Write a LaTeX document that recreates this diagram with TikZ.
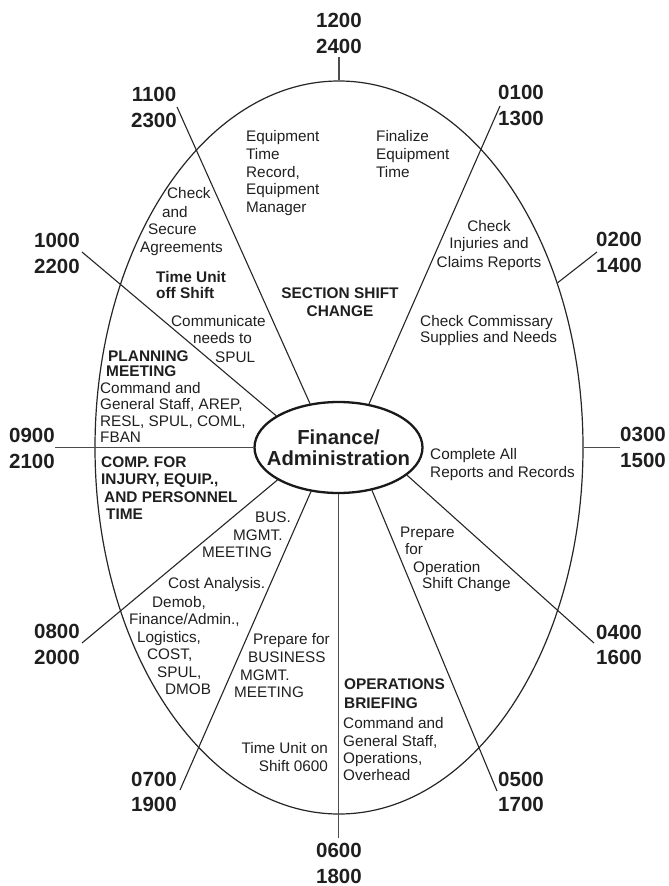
\documentclass[tikz,border=0pt]{standalone}
\usepackage{fontspec}
\setmainfont{Liberation Sans}
\usetikzlibrary{shapes.geometric}

\begin{document}
\begin{tikzpicture}[x=1pt,y=-1pt,
  txt/.style={font=\fontsize{15.3}{17}\selectfont, text=black!88, inner sep=0pt, anchor=base west},
  hdr/.style={font=\fontsize{15.4}{17}\selectfont\bfseries, text=black!88, inner sep=0pt, anchor=base west},
  hour/.style={font=\fontsize{20.5}{25.5}\selectfont\bfseries, align=center, text=black!88, inner sep=0pt},
  spoke/.style={line width=1.1pt, draw=black!85},
  axis/.style={line width=1.5pt, draw=black!70},
]
\useasboundingbox (0,0) rectangle (669,886);

% clock face and hub
\node[ellipse, draw=black!85, line width=1.2pt, minimum width=488pt, minimum height=733pt, inner sep=0pt] (big) at (339,447.5) {};
\node[ellipse, draw=black!90, line width=2.3pt, minimum width=168pt, minimum height=91pt, inner sep=0pt] (fin) at (338.5,447.5) {};
\node[font=\fontsize{20.3}{21}\selectfont\bfseries, align=center, text=black!88, inner sep=0pt] (fintext) at (fin.center) {Finance/\\Administration};

% hour labels
\node[hour] (h12) at (339,33.5) {1200\\2400};
\node[hour] (h11) at (154,107.5) {1100\\2300};
\node[hour] (h01) at (521,105.5) {0100\\1300};
\node[hour] (h10) at (57,253.5) {1000\\2200};
\node[hour] (h02) at (619,252.5) {0200\\1400};
\node[hour] (h09) at (32,448.5) {0900\\2100};
\node[hour] (h03) at (643,447.5) {0300\\1500};
\node[hour] (h08) at (57,644.5) {0800\\2000};
\node[hour] (h04) at (619,645) {0400\\1600};
\node[hour] (h07) at (154,792) {0700\\1900};
\node[hour] (h05) at (521,792) {0500\\1700};
\node[hour] (h06) at (339,863.5) {0600\\1800};

% outer ends of the spokes
\coordinate (e12) at (339,57);
\coordinate (e11) at (177,107);
\coordinate (e01) at (500,106);
\coordinate (e10) at (82,252);
\coordinate (e02) at (597,252);
\coordinate (e09) at (55,447.5);
\coordinate (e03) at (620,447.5);
\coordinate (e08) at (82,643);
\coordinate (e04) at (594,643);
\coordinate (e07) at (180,790);
\coordinate (e05) at (497,791);
\coordinate (e06) at (338.5,838);

% spokes
\draw[axis] (big.north) -- (e12);
\draw[axis] (big.east) -- (e03);
\draw[axis] (e09) -- (fin.west);
\draw[axis] (fin.south) -- (e06);
\draw[spoke] (e02) -- (big.37);
\draw[spoke] (e11) -- (fin.123);
\draw[spoke] (e01) -- (fin.55);
\draw[spoke] (e10) -- (fin.153);
\draw[spoke] (e08) -- (fin.208);
\draw[spoke] (e04) -- (fin.338);
\draw[spoke] (e07) -- (fin.238);
\draw[spoke] (e05) -- (fin.308);

% activities
\foreach \y/\t [count=\k] in {141/Equipment, 159/Time, 177/{Record,}, 194/Equipment, 212/Manager}
  \node[txt] (eqrec\k) at (246,\y) {\t};
\foreach \y/\t [count=\k] in {141/Finalize, 159/Equipment, 177/Time}
  \node[txt] (finalize\k) at (376,\y) {\t};
\foreach \x/\y/\t [count=\k] in {167/198/Check, 162/217/and, 148/234/Secure, 140/252/Agreements}
  \node[txt] (secure\k) at (\x,\y) {\t};
\foreach \y/\t [count=\k] in {231/Check, 248/Injuries and, 267/Claims Reports}
  \node[txt, anchor=base] (injury\k) at (489,\y) {\t};
\foreach \y/\t [count=\k] in {282/Time Unit, 298/off Shift}
  \node[hdr] (offshift\k) at (156,\y) {\t};
\foreach \y/\t [count=\k] in {298/SECTION SHIFT, 316/CHANGE}
  \node[hdr, anchor=base] (section\k) at (340,\y) {\t};
\foreach \x/\y/\t [count=\k] in {171/326/Communicate, 193/343/needs to, 215/362/SPUL}
  \node[txt] (comm\k) at (\x,\y) {\t};
\foreach \y/\t [count=\k] in {326/Check Commissary, 342/Supplies and Needs}
  \node[txt] (commissary\k) at (420,\y) {\t};
\foreach \x/\y/\t [count=\k] in {108/361/PLANNING, 106/376/MEETING}
  \node[hdr] (planning\k) at (\x,\y) {\t};
\foreach \y/\t [count=\k] in {393/Command and, 409/{General Staff, AREP,}, 426/{RESL, SPUL, COML,}, 442/FBAN}
  \node[txt] (planstaff\k) at (100,\y) {\t};
\foreach \x/\y/\t [count=\k] in {101/467/COMP. FOR, 101/484/{INJURY, EQUIP.,}, 104/502/AND PERSONNEL, 106/519/TIME}
  \node[hdr] (comp\k) at (\x,\y) {\t};
\foreach \y/\t [count=\k] in {459/Complete All, 477/Reports and Records}
  \node[txt] (complete\k) at (430,\y) {\t};
\foreach \x/\y/\t [count=\k] in {255/522/BUS., 233/540/MGMT., 202/557/MEETING}
  \node[txt] (bus\k) at (\x,\y) {\t};
\foreach \x/\y/\t [count=\k] in {400/537/Prepare, 405/554/for, 413/572/Operation, 422/588/Shift Change}
  \node[txt] (opsprep\k) at (\x,\y) {\t};
\foreach \x/\y/\t [count=\k] in {168/588/Cost Analysis., 152/607/{Demob,}, 129/624/{Finance/Admin.,}, 137/642/{Logistics,}, 147/659/{COST,}, 157/677/{SPUL,}, 165/694/DMOB}
  \node[txt] (cost\k) at (\x,\y) {\t};
\foreach \x/\y/\t [count=\k] in {253/644/Prepare for, 248/662/BUSINESS, 240/680/MGMT., 234/697/MEETING}
  \node[txt] (busprep\k) at (\x,\y) {\t};
\foreach \y/\t [count=\k] in {753/Time Unit on, 771/Shift 0600}
  \node[txt, anchor=base east] (onshift\k) at (328,\y) {\t};
\foreach \y/\t [count=\k] in {689/OPERATIONS, 708/BRIEFING}
  \node[hdr] (briefing\k) at (344,\y) {\t};
\foreach \y/\t [count=\k] in {728/Command and, 746/{General Staff,}, 763/{Operations,}, 780/Overhead}
  \node[txt] (opsstaff\k) at (343,\y) {\t};
\end{tikzpicture}
\end{document}
